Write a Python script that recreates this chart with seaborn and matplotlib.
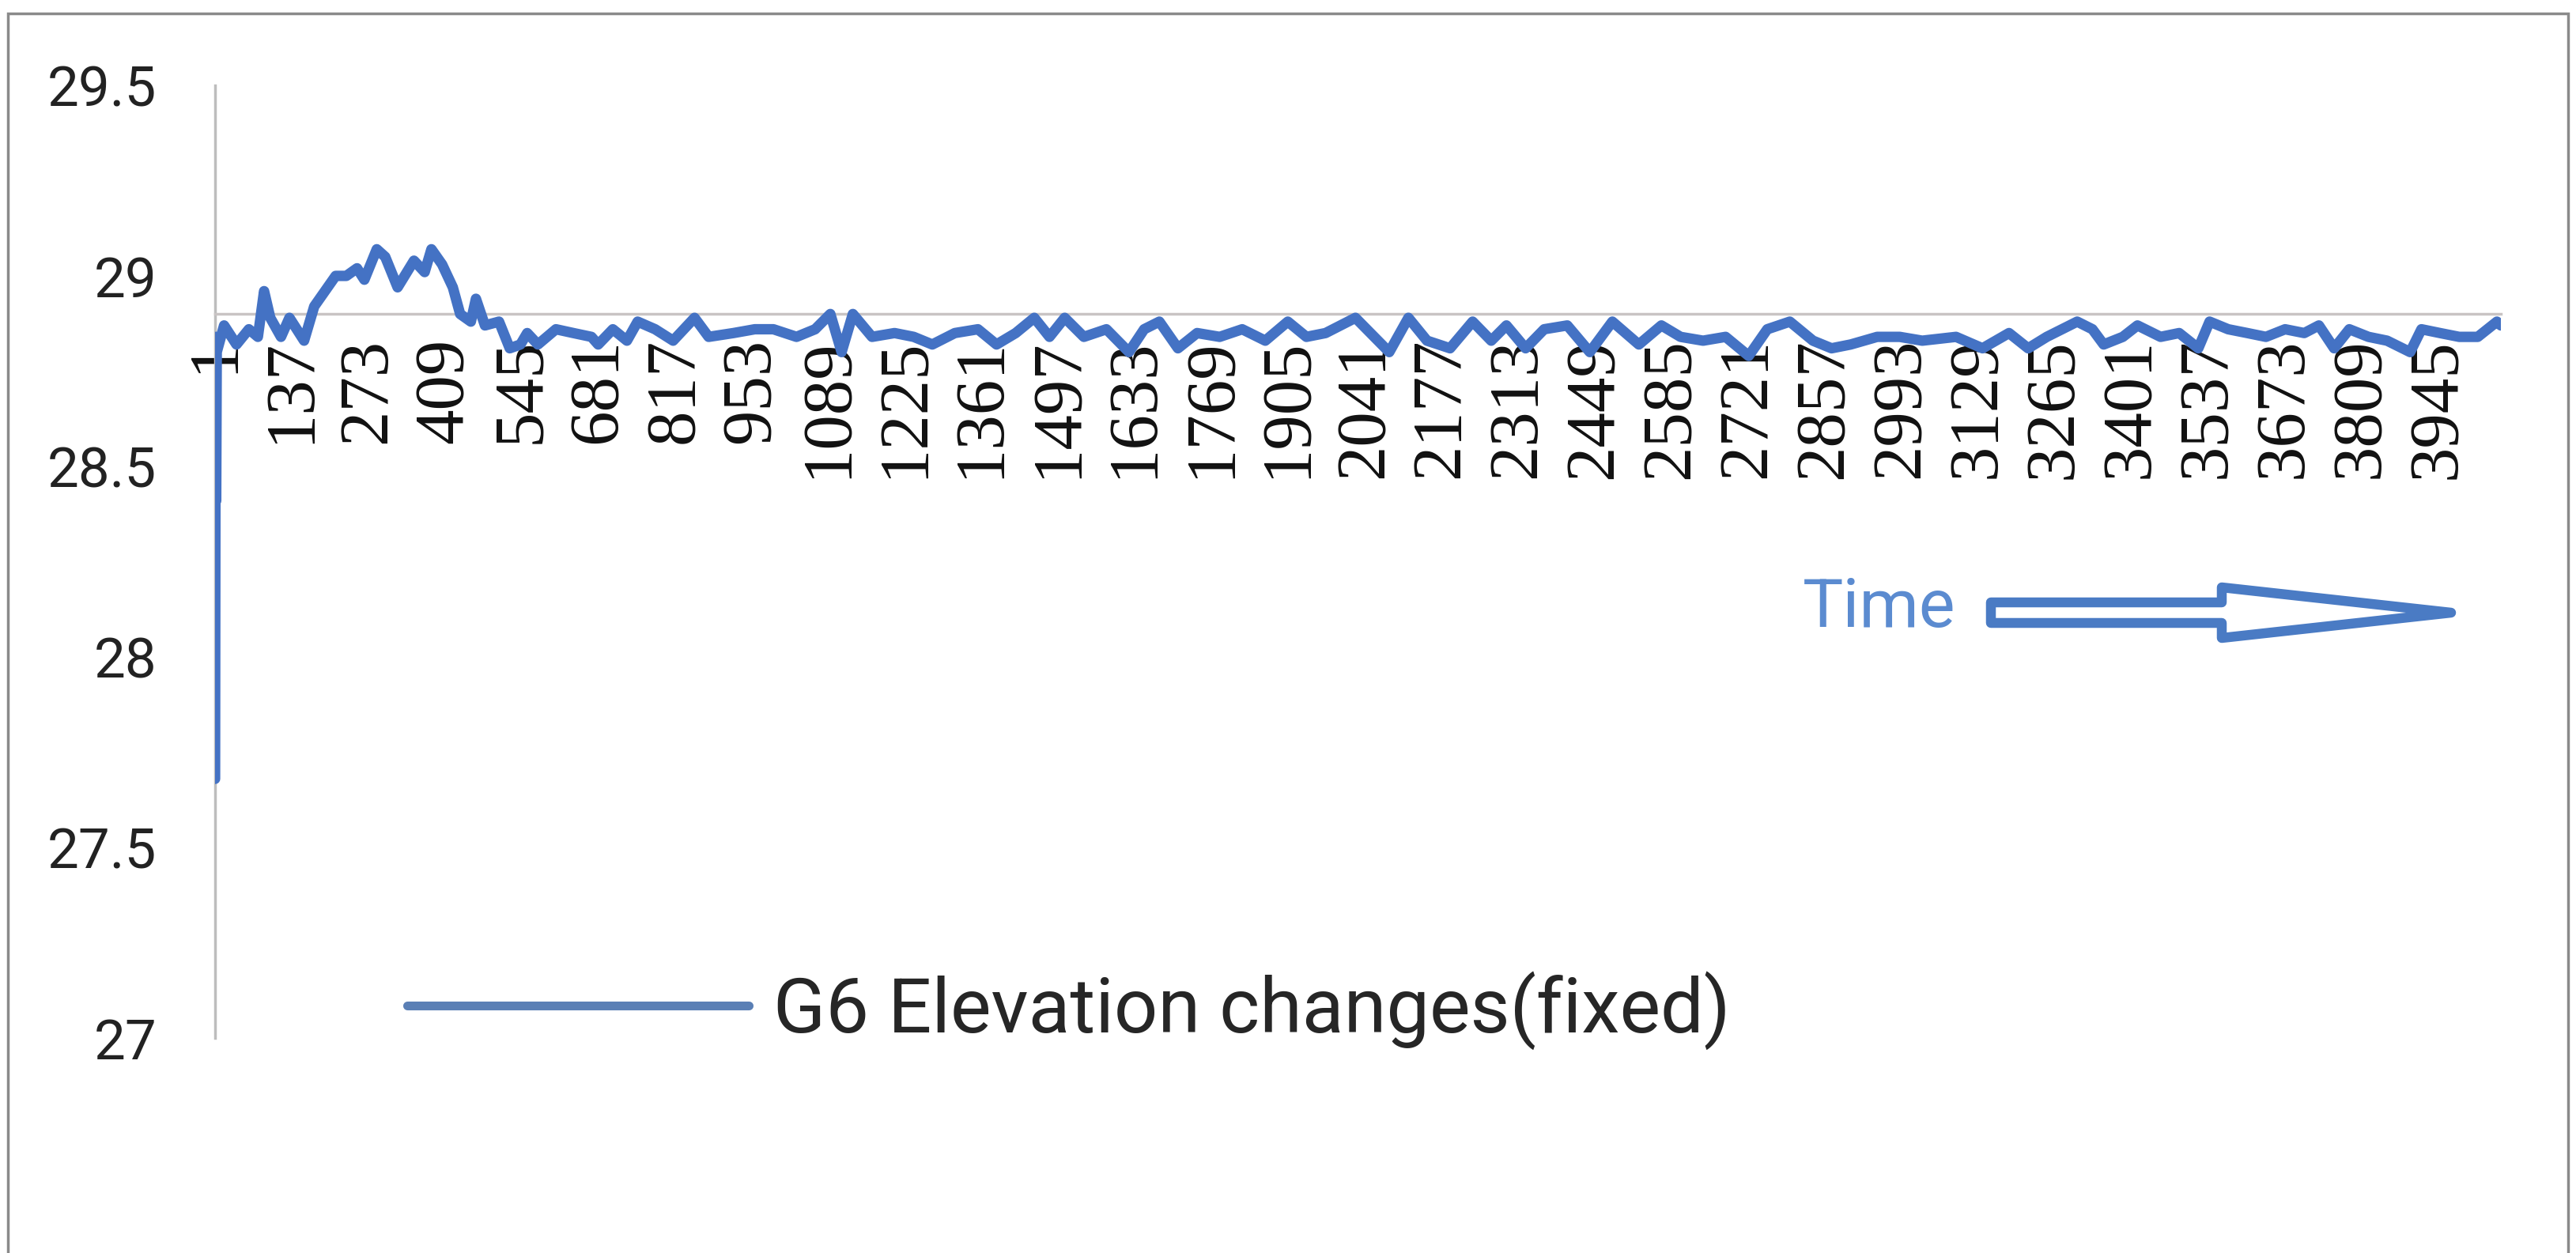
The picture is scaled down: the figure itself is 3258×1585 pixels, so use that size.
import matplotlib
matplotlib.use("Agg")
import matplotlib.pyplot as plt
from matplotlib.patches import FancyArrow, Rectangle
import seaborn as sns

# sample number (category) and elevation
sample_idx = [1, 2, 3, 4, 17, 39, 61, 77, 88, 99, 118, 133, 159, 177, 196, 215, 234, 253, 266, 288,
              303, 325, 354, 373, 385, 404, 423, 436, 455, 464, 480, 505, 524, 543, 555, 574, 606, 637,
              669, 681, 707, 732, 751, 782, 814, 852, 877, 921, 959,
              992, 1033, 1066, 1093, 1113, 1133, 1167, 1207, 1241, 1274, 1314, 1355, 1388, 1422, 1455,
              1482, 1509, 1543, 1583, 1623, 1650, 1677, 1710, 1744, 1784, 1824, 1865, 1905, 1938, 1972,
              2025, 2085, 2119, 2152, 2193, 2233, 2266, 2293, 2327, 2360, 2401, 2441, 2481, 2528, 2568,
              2602, 2642, 2682, 2723, 2756, 2796, 2837, 2870, 2904, 2951, 2991, 3031,
              3091, 3138, 3185, 3219, 3252, 3306, 3333, 3353, 3387, 3413, 3454, 3487, 3521, 3541, 3574,
              3608, 3641, 3675, 3709, 3735, 3762, 3789, 3823, 3856, 3897, 3917, 3950, 3984, 4017, 4051, 4058]
elevation = [27.68, 28.84, 28.41, 28.80, 28.87, 28.82, 28.86, 28.84, 28.96, 28.89, 28.84, 28.89, 28.83,
             28.92, 28.96, 29.00, 29.00, 29.02, 28.99, 29.07, 29.05, 28.97, 29.04, 29.01, 29.07, 29.03,
             28.97, 28.90, 28.88, 28.94, 28.87, 28.88, 28.81, 28.82, 28.85, 28.82, 28.86, 28.85, 28.84,
             28.82, 28.86, 28.83, 28.88, 28.86, 28.83, 28.89, 28.84, 28.85, 28.86,
             28.86, 28.84, 28.86, 28.90, 28.80, 28.90, 28.84, 28.85, 28.84, 28.82, 28.85, 28.86, 28.82,
             28.85, 28.89, 28.84, 28.89, 28.84, 28.86, 28.80, 28.86, 28.88, 28.81, 28.85, 28.84, 28.86,
             28.83, 28.88, 28.84, 28.85,
             28.89, 28.80, 28.89, 28.83, 28.81, 28.88, 28.83, 28.87, 28.81, 28.86, 28.87, 28.80, 28.88,
             28.82, 28.87, 28.84, 28.83, 28.84, 28.79, 28.86, 28.88, 28.83, 28.81, 28.82, 28.84, 28.84,
             28.83,
             28.84, 28.81, 28.85, 28.81, 28.84, 28.88, 28.86, 28.82, 28.84, 28.87, 28.84, 28.85, 28.81,
             28.88, 28.86, 28.85, 28.84, 28.86, 28.85, 28.87, 28.81, 28.86, 28.84, 28.83, 28.80, 28.86,
             28.85, 28.84, 28.84, 28.88, 28.87]

x_ticks = [1, 137, 273, 409, 545, 681, 817, 953, 1089, 1225, 1361, 1497, 1633, 1769, 1905, 2041,
           2177, 2313, 2449, 2585, 2721, 2857, 2993, 3129, 3265, 3401, 3537, 3673, 3809, 3945]
y_ticks = [27, 27.5, 28, 28.5, 29, 29.5]
y_labels = ["27", "27.5", "28", "28.5", "29", "29.5"]
series_name = "G6 Elevation changes(fixed)"
arrow_text = "Time"

W, H = 3258, 1585
blue = "#4472C4"

sns.set_theme(style="white")
plt.rcParams["font.family"] = ["Roboto", "DejaVu Sans"]

fig = plt.figure(figsize=(W / 100, H / 100), dpi=100)
ax = fig.add_axes([272 / W, 1 - 1313 / H, (3163 - 272) / W, (1313 - 108) / H])

sns.lineplot(x=sample_idx, y=elevation, ax=ax, color=blue, lw=9.5, label=series_name,
             sort=False, estimator=None, zorder=3)

# spine position first: moving a spine resets the ticks
for s in ["top", "right"]:
    ax.spines[s].set_visible(False)
ax.spines["bottom"].set_position(("data", 28.9))
ax.spines["bottom"].set_color("#c9c4c4")
ax.spines["bottom"].set_linewidth(2.5)
ax.spines["left"].set_color("#bdbdbd")
ax.spines["left"].set_linewidth(2.5)

ax.set_xlim(1, 4058)
ax.set_ylim(27, 29.5)
ax.set_xticks(x_ticks)
ax.set_xticklabels([str(t) for t in x_ticks])
ax.set_yticks(y_ticks)
ax.set_yticklabels(y_labels)
ax.set_xlabel("")
ax.set_ylabel("")

ax.tick_params(axis="y", length=0, pad=53, labelsize=51, labelcolor="#222222")
ax.tick_params(axis="x", length=0, pad=22, labelsize=64, labelcolor="#111111", labelrotation=90)
for lbl in ax.get_xticklabels():
    lbl.set_fontfamily(["Liberation Serif", "DejaVu Serif"])

leg = ax.legend(loc="center left", bbox_to_anchor=(515 / W, 1 - 1278 / H), bbox_transform=fig.transFigure,
                frameon=False, fontsize=70, handlelength=4.44, handletextpad=0.32,
                borderpad=0, borderaxespad=0)
for h in leg.get_lines():
    h.set_color("#5a7fb5")
    h.set_linewidth(8)

# "Time" label with hollow block arrow
fig.text(2280 / W, 1 - 769 / H, arrow_text, color="#5b8bd0", fontsize=62, va="center", ha="left")
arrow = FancyArrow(2518 / W, 1 - 775 / H, (3100 - 2518) / W, 0, width=26 / H,
                   head_width=64 / H, head_length=290 / W, length_includes_head=True,
                   transform=fig.transFigure, fc="white", ec="#4a7bc4", lw=9)
arrow.set_joinstyle("round")
fig.add_artist(arrow)

# outer chart frame
fig.add_artist(Rectangle((10 / W, -0.05), (3248 - 10) / W, 1.05 - 17 / H,
                         transform=fig.transFigure, fill=False, ec="#8a8a8a", lw=2.5))

fig.savefig("out.png", dpi=100)
